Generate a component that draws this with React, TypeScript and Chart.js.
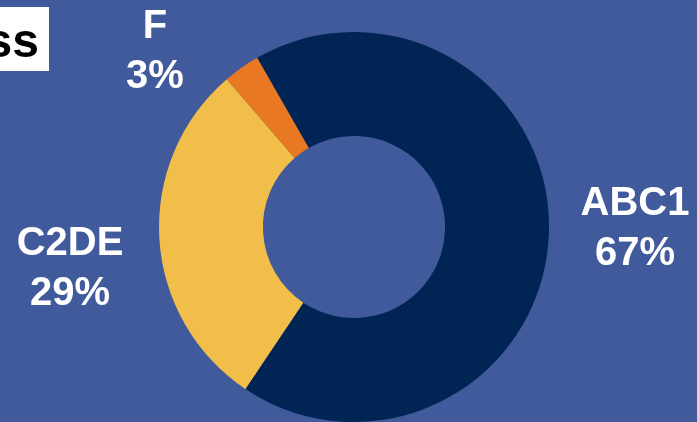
import React, { useEffect, useRef } from "react";
import { Chart, registerables } from "chart.js";

Chart.register(...registerables);

const categories = ["ABC1", "C2DE", "F"];
const values = [67, 29, 3];
const percentLabels = ["67%", "29%", "3%"];
const colors = ["#002454", "#F2BE4A", "#E87822"];
const BG = "#415A9B";

const labelPlugin = {
  id: "sliceLabels",
  afterDraw(chart: any) {
    const ctx = chart.ctx;
    ctx.save();
    // title box (cropped)
    ctx.fillStyle = "#FFFFFF";
    ctx.fillRect(0, 7, 49, 64);
    ctx.fillStyle = "#000000";
    ctx.font = "bold 48px 'Liberation Sans', Arial, sans-serif";
    ctx.textAlign = "right";
    ctx.textBaseline = "alphabetic";
    ctx.fillText("ss", 39, 57);

    // slice labels
    const pos: Record<string, [number, number]> = {
      ABC1: [635, 215],
      C2DE: [70, 255],
      F: [155, 38],
    };
    ctx.fillStyle = "#FFFFFF";
    ctx.font = "bold 40px 'Liberation Sans', Arial, sans-serif";
    ctx.textAlign = "center";
    categories.forEach((c, i) => {
      const [x, y] = pos[c];
      ctx.fillText(c, x, y);
      ctx.fillText(percentLabels[i], x, y + 50);
    });
    ctx.restore();
  },
};

export default function App() {
  const ref = useRef<HTMLCanvasElement>(null);
  useEffect(() => {
    if (!ref.current) return;
    const chart = new Chart(ref.current, {
      type: "doughnut",
      data: {
        labels: categories,
        datasets: [
          {
            data: values,
            backgroundColor: colors,
            borderWidth: 0,
            hoverOffset: 0,
          },
        ],
      },
      options: {
        responsive: false,
        animation: false,
        rotation: -29.8,
        cutout: "46.7%",
        layout: { padding: { top: 32, left: 159, right: 148, bottom: 0 } },
        plugins: {
          legend: { display: false },
          tooltip: { enabled: false },
          title: { display: false },
        },
        events: [],
      },
      plugins: [labelPlugin],
    });
    return () => chart.destroy();
  }, []);
  return (
    <div
      style={{
        position: "absolute",
        left: 0,
        top: 0,
        width: 697,
        height: 422,
        background: BG,
        overflow: "hidden",
      }}
    >
      <canvas ref={ref} width={697} height={422} style={{ display: "block" }} />
    </div>
  );
}
